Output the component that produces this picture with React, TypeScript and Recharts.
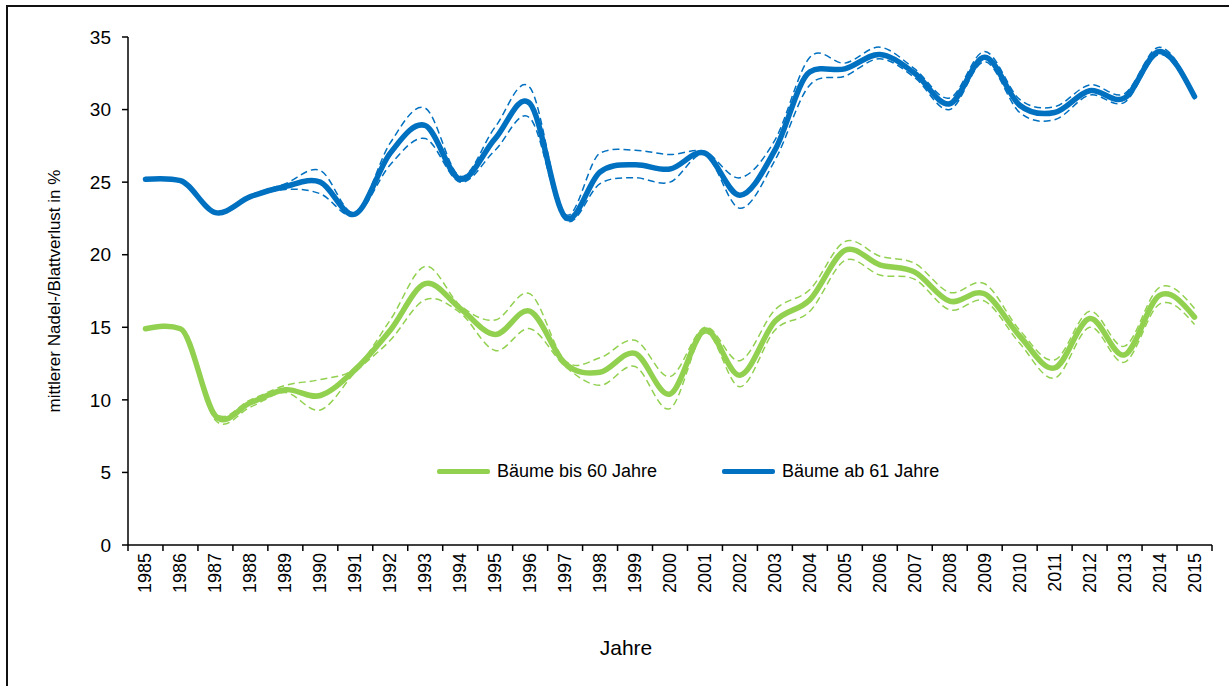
import React from 'react';
import { LineChart, Line, XAxis, YAxis } from 'recharts';

const years = [
  1985, 1986, 1987, 1988, 1989, 1990, 1991, 1992, 1993, 1994, 1995, 1996, 1997, 1998, 1999, 2000,
  2001, 2002, 2003, 2004, 2005, 2006, 2007, 2008, 2009, 2010, 2011, 2012, 2013, 2014, 2015,
];

// Bäume bis 60 Jahre (mean + confidence band)
const youngMean = [
  14.9, 14.9, 8.9, 9.8, 10.7, 10.3, 12.1, 14.8, 18.0, 16.3, 14.5, 16.1, 12.5, 11.9, 13.2, 10.4,
  14.8, 11.7, 15.4, 16.9, 20.3, 19.3, 18.8, 16.8, 17.3, 14.4, 12.2, 15.6, 13.1, 17.2, 15.7,
];
const youngUpper = [
  14.9, 14.9, 9.1, 10.0, 11.0, 11.4, 12.2, 15.5, 19.2, 16.5, 15.5, 17.3, 12.7, 12.9, 14.1, 11.6,
  15.0, 12.7, 16.2, 17.6, 20.9, 19.9, 19.4, 17.4, 18.0, 14.8, 12.75, 16.1, 13.7, 17.75, 16.3,
];
const youngLower = [
  14.9, 14.9, 8.6, 9.5, 10.5, 9.3, 11.9, 14.1, 16.9, 16.0, 13.4, 14.9, 12.3, 11.0, 12.3, 9.4,
  14.6, 10.9, 14.8, 16.1, 19.6, 18.6, 18.3, 16.2, 16.8, 13.9, 11.5, 15.0, 12.6, 16.6, 15.2,
];

// Bäume ab 61 Jahre (mean + confidence band)
const oldMean = [
  25.2, 25.1, 22.9, 24.0, 24.7, 25.0, 22.8, 27.0, 28.9, 25.2, 28.0, 30.4, 22.6, 25.7, 26.2, 25.9,
  27.0, 24.1, 27.2, 32.6, 32.8, 33.8, 32.5, 30.4, 33.6, 30.3, 29.8, 31.3, 30.8, 34.0, 30.9,
];
const oldUpper = [
  25.2, 25.1, 23.0, 24.1, 24.9, 25.8, 22.9, 27.7, 30.1, 25.4, 28.8, 31.5, 22.8, 27.0, 27.2, 26.9,
  27.1, 25.3, 27.9, 33.6, 33.2, 34.3, 32.8, 30.8, 34.0, 30.7, 30.2, 31.7, 31.1, 34.3, 31.0,
];
const oldLower = [
  25.2, 25.1, 22.8, 23.9, 24.5, 24.2, 22.7, 26.2, 28.0, 25.0, 27.2, 29.4, 22.4, 24.9, 25.3, 25.0,
  26.9, 23.2, 26.5, 31.7, 32.3, 33.5, 32.2, 30.0, 33.3, 29.8, 29.3, 31.0, 30.5, 33.8, 30.7,
];

const yTicks = [0, 5, 10, 15, 20, 25, 30, 35];

const seriesNames = ['Bäume bis 60 Jahre', 'Bäume ab 61 Jahre'];
const seriesColors = ['#92D050', '#0070C0'];

const FONT = '"Liberation Sans", Arial, sans-serif';
const W = 1229;
const H = 686;
const PLOT_LEFT = 128;
const PLOT_RIGHT = 1212;
const PLOT_TOP = 37;
const PLOT_BOTTOM = 545;
const BAND = (PLOT_RIGHT - PLOT_LEFT) / years.length;

const data = years.map((year, i) => ({
  year,
  youngMean: youngMean[i],
  youngUpper: youngUpper[i],
  youngLower: youngLower[i],
  oldMean: oldMean[i],
  oldUpper: oldUpper[i],
  oldLower: oldLower[i],
}));

// category boundaries, like Excel's "between categories" tick marks
const xTicks = [...years.map((y) => y - 0.5), years[years.length - 1] + 0.5];

// Excel-like smoothed line: Catmull-Rom tangents, softened where one side is nearly flat
const excelSmooth = (context: any) => {
  let pts: [number, number][] = [];
  return {
    areaStart() {},
    areaEnd() {},
    lineStart() {
      pts = [];
    },
    point(x: number, y: number) {
      pts.push([+x, +y]);
    },
    lineEnd() {
      const n = pts.length;
      if (!n) return;
      const d: number[] = [];
      for (let i = 0; i < n - 1; i++) {
        d.push((pts[i + 1][1] - pts[i][1]) / (pts[i + 1][0] - pts[i][0]));
      }
      const m: number[] = pts.map((_, i) => {
        if (i === 0 || i === n - 1) return 0;
        const a = d[i - 1];
        const b = d[i];
        let t = (a + b) / 2;
        if (a * b >= 0) {
          const lo = Math.min(Math.abs(a), Math.abs(b));
          const hi = Math.max(Math.abs(a), Math.abs(b));
          const lim = 3 * lo + 0.15 * hi;
          if (Math.abs(t) > lim) t = Math.sign(t) * lim;
        }
        return t;
      });
      if (n > 1) {
        m[0] = (3 * d[0] - m[1]) / 2;
        m[n - 1] = (3 * d[n - 2] - m[n - 2]) / 2;
      }
      context.moveTo(pts[0][0], pts[0][1]);
      for (let i = 0; i < n - 1; i++) {
        const [x0, y0] = pts[i];
        const [x1, y1] = pts[i + 1];
        const h = (x1 - x0) / 3;
        context.bezierCurveTo(x0 + h, y0 + m[i] * h, x1 - h, y1 - m[i + 1] * h, x1, y1);
      }
    },
  };
};

const YearTick = (props: any) => {
  const { x, y, payload } = props;
  const label = Math.round(payload.value + 0.5);
  if (label > years[years.length - 1]) return <g />;
  return (
    <text
      x={0}
      y={0}
      transform={`translate(${x + BAND / 2},${y}) rotate(-90)`}
      textAnchor="end"
      dominantBaseline="central"
      fontSize={18}
      fontFamily={FONT}
      fill="#000"
    >
      {label}
    </text>
  );
};

const axisStroke = { stroke: '#000', strokeWidth: 1.5 };
const bandStyle = { strokeWidth: 1.5, strokeDasharray: '7 4' };

export default function App() {
  return (
    <div
      style={{
        position: 'absolute',
        left: 0,
        top: 0,
        width: W,
        height: H,
        overflow: 'hidden',
        background: '#fff',
        fontFamily: FONT,
      }}
    >
      <div
        style={{
          position: 'absolute',
          left: 6,
          top: 5,
          width: W + 20,
          height: H + 20,
          border: '2px solid #111',
        }}
      />
      <div style={{ position: 'absolute', left: 0, top: 0 }}>
        <LineChart
          width={W}
          height={H}
          data={data}
          margin={{ top: PLOT_TOP, right: W - PLOT_RIGHT, left: PLOT_LEFT - 60, bottom: H - PLOT_BOTTOM - 60 }}
        >
          <XAxis
            type="number"
            dataKey="year"
            domain={[xTicks[0], xTicks[xTicks.length - 1]]}
            ticks={xTicks}
            interval={0}
            height={60}
            tickSize={6}
            tickMargin={2}
            axisLine={axisStroke}
            tickLine={axisStroke}
            tick={<YearTick />}
          />
          <YAxis
            domain={[0, 35]}
            ticks={yTicks}
            interval={0}
            width={60}
            tickSize={6}
            tickMargin={11}
            axisLine={axisStroke}
            tickLine={axisStroke}
            tick={{ fill: '#000', fontSize: 19, fontFamily: FONT }}
          />
          <Line dataKey="youngUpper" type={excelSmooth as any} stroke={seriesColors[0]} {...bandStyle} dot={false} activeDot={false} isAnimationActive={false} />
          <Line dataKey="youngLower" type={excelSmooth as any} stroke={seriesColors[0]} {...bandStyle} dot={false} activeDot={false} isAnimationActive={false} />
          <Line dataKey="youngMean" type={excelSmooth as any} stroke={seriesColors[0]} strokeWidth={5.5} strokeLinecap="round" dot={false} activeDot={false} isAnimationActive={false} />
          <Line dataKey="oldUpper" type={excelSmooth as any} stroke={seriesColors[1]} {...bandStyle} dot={false} activeDot={false} isAnimationActive={false} />
          <Line dataKey="oldLower" type={excelSmooth as any} stroke={seriesColors[1]} {...bandStyle} dot={false} activeDot={false} isAnimationActive={false} />
          <Line dataKey="oldMean" type={excelSmooth as any} stroke={seriesColors[1]} strokeWidth={5.5} strokeLinecap="round" dot={false} activeDot={false} isAnimationActive={false} />
        </LineChart>
      </div>

      {/* y axis title */}
      <div
        style={{
          position: 'absolute',
          left: 55,
          top: (PLOT_TOP + PLOT_BOTTOM) / 2,
          transform: 'translate(-50%, -50%) rotate(-90deg)',
          whiteSpace: 'nowrap',
          fontSize: 17,
          color: '#000',
        }}
      >
        mittlerer Nadel-/Blattverlust in %
      </div>

      {/* x axis title */}
      <div
        style={{
          position: 'absolute',
          left: 626,
          top: 648,
          transform: 'translate(-50%, -50%)',
          fontSize: 21,
          color: '#000',
        }}
      >
        Jahre
      </div>

      {/* legend */}
      <div
        style={{
          position: 'absolute',
          left: 437,
          top: 461,
          display: 'flex',
          alignItems: 'center',
          fontSize: 18,
          color: '#000',
        }}
      >
        {seriesNames.map((name, i) => (
          <div key={name} style={{ display: 'flex', alignItems: 'center', marginRight: i === 0 ? 65 : 0 }}>
            <div style={{ width: 53, height: 4.5, borderRadius: 2, background: seriesColors[i], marginRight: 7 }} />
            <span>{name}</span>
          </div>
        ))}
      </div>
    </div>
  );
}
